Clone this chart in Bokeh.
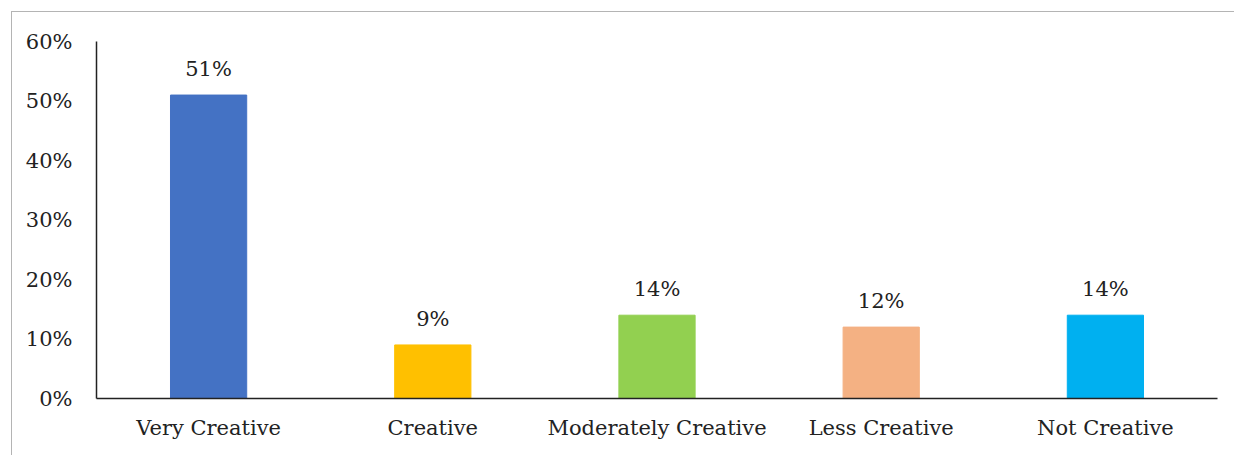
from bokeh.plotting import figure
from bokeh.models import ColumnDataSource, Range1d, FixedTicker, NumeralTickFormatter, FactorRange
from bokeh.core.properties import value
from bokeh.embed import file_html
from bokeh.resources import INLINE

categories = ["Very Creative", "Creative", "Moderately Creative", "Less Creative", "Not Creative"]
shares = [0.51, 0.09, 0.14, 0.12, 0.14]
labels = ["51%", "9%", "14%", "12%", "14%"]
colors = ["#4472C4", "#FFC000", "#92D050", "#F4B183", "#00B0F0"]
y_ticks = [0, 0.1, 0.2, 0.3, 0.4, 0.5, 0.6]

FONT = "DejaVu Serif"
FSIZE = "21px"

src = ColumnDataSource(dict(cat=categories, val=shares, lab=labels, col=colors))

p = figure(width=1223, height=444, x_range=FactorRange(factors=categories, range_padding=0),
           y_range=Range1d(0, 0.6), output_backend="svg", toolbar_location=None,
           min_border_left=84, min_border_right=18, min_border_top=29, min_border_bottom=58)
p.margin = (11, 0, 0, 11)
p.styles = {"border-left": "1px solid #b4b4b4", "border-top": "1px solid #b4b4b4"}

p.vbar(x="cat", top="val", width=0.34, color="col", source=src)
p.text(x="cat", y="val", text="lab", source=src, text_align="center", text_baseline="alphabetic",
       y_offset=-26, text_font=value(FONT), text_font_size=FSIZE, text_color="#222222")

p.grid.visible = False
p.outline_line_color = None
p.background_fill_color = "white"
p.border_fill_color = "white"

p.yaxis.ticker = FixedTicker(ticks=y_ticks)
p.yaxis.formatter = NumeralTickFormatter(format="0%")
for ax in (p.xaxis[0], p.yaxis[0]):
    ax.axis_line_color = "#222222"
    ax.axis_line_width = 1.5
    ax.major_tick_line_color = None
    ax.minor_tick_line_color = None
    ax.major_tick_out = 0
    ax.major_tick_in = 0
    ax.minor_tick_out = 0
    ax.major_label_text_font = FONT
    ax.major_label_text_font_size = FSIZE
    ax.major_label_text_color = "#222222"
p.yaxis.major_label_standoff = 24
p.xaxis.major_label_standoff = 17

open("out.html", "w").write(file_html(p, INLINE))
